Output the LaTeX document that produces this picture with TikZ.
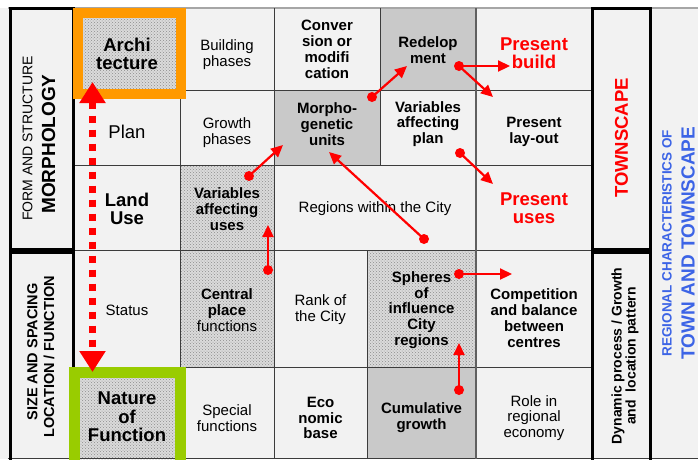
\documentclass[tikz,border=0pt]{standalone}
\usepackage{fontspec}
\setmainfont{Liberation Sans}
\usetikzlibrary{arrows.meta,patterns}
\definecolor{bg}{HTML}{F2F2F2}
\definecolor{cellgray}{HTML}{C9C9C9}
\definecolor{gridc}{HTML}{3C3C3C}
\definecolor{myred}{HTML}{FF0000}
\definecolor{myorange}{HTML}{FF9900}
\definecolor{mygreen}{HTML}{99CC00}
\definecolor{myblue}{HTML}{3C64E6}
\tikzset{
  txt/.style={align=center, inner sep=0pt, font=\fontsize{15}{15.8}\selectfont},
  btxt/.style={align=center, inner sep=0pt, font=\fontsize{15}{15.8}\selectfont\bfseries},
  bigtxt/.style={align=center, inner sep=0pt, font=\fontsize{18.5}{18.5}\selectfont},
  bigbtxt/.style={align=center, inner sep=0pt, font=\fontsize{18.5}{18.5}\selectfont\bfseries},
  redtxt/.style={bigbtxt, text=myred},
  vtxt/.style={rotate=90, inner sep=0pt},
  gridline/.style={draw=gridc, line width=1pt},
  thickbox/.style={draw=black, line width=3pt},
  stipple/.style={preaction={fill=gray!28}, pattern=crosshatch dots, pattern color=gray!90},
  link/.style={draw=myred, line width=2.2pt, -{Triangle[length=12pt,width=11pt]}},
  dotmark/.style={fill=myred},
}
\begin{document}
\begin{tikzpicture}[x=1pt,y=-1pt]
\useasboundingbox (0,0) rectangle (698,459);
\clip (0,0) rectangle (698,459);
% background
\fill[white] (0,0) rectangle (698,8);
\fill[bg] (0,8) rectangle (698,459);
% shaded cells
\fill[cellgray] (380,8) rectangle (476,90);
\fill[cellgray] (274,90) rectangle (380,165);
\fill[cellgray] (367,367) rectangle (476,459);
\path[stipple] (73,8) rectangle (180,90);
\path[stipple] (180,165) rectangle (274,250);
\path[stipple] (180,250) rectangle (274,367);
\path[stipple] (367,250) rectangle (476,367);
\path[stipple] (73,367) rectangle (180,459);
% grid
\draw[draw=gray!70, line width=1.2pt] (8,8) -- (698,8);
\draw[gridline] (73,90) -- (592,90);
\draw[gridline] (73,165) -- (592,165);
\draw[gridline] (73,250) -- (592,250);
\draw[gridline] (73,367) -- (592,367);
\draw[gridline] (8,458) -- (698,458);
\draw[gridline] (180,8) -- (180,459);
\draw[gridline] (274,8) -- (274,459);
\draw[gridline] (380,8) -- (380,165);
\draw[gridline] (367,250) -- (367,459);
\draw[draw=gray!75!black, line width=1.6pt] (476,8) -- (476,459);
% thick frames
\draw[thickbox] (10,8) rectangle (73,249.5);
\draw[thickbox] (10,252.5) rectangle (73,475);
\draw[thickbox] (592.5,8) rectangle (650.5,249.5);
\draw[thickbox] (592.5,252.5) rectangle (650.5,475);
% coloured frames
\draw[myorange, line width=10pt] (78,12.5) rectangle (181,94);
\draw[mygreen, line width=11pt] (74.5,372) rectangle (180.5,480);
% cell texts
\node[bigbtxt] (archi) at (127,54) {Archi\\tecture};
\node[txt] (build) at (227,55) {Building\\phases};
\node[btxt] (conv) at (327,49.5) {Conver\\sion or\\modifi\\cation};
\node[btxt] (redev) at (428,50) {Redelop\\ment};
\node[redtxt] (pbuild) at (534,53) {Present\\build};
\node[bigtxt] (plan) at (127,132) {Plan};
\node[txt] (growth) at (227,133) {Growth\\phases};
\node[btxt] (morph) at (327,124) {Morpho-\\genetic\\units};
\node[btxt] (varplan) at (428,124) {Variables\\affecting\\plan};
\node[btxt] (layout) at (534,132) {Present\\lay-out};
\node[bigbtxt] (land) at (127,209) {Land\\Use};
\node[btxt] (varuses) at (227,209) {Variables\\affecting\\uses};
\node[txt] (regions) at (375,209) {Regions within the City};
\node[redtxt] (puses) at (534,208) {Present\\uses};
\node[txt] (status) at (127,310) {Status};
\node[txt] (central) at (227,310) {{\bfseries Central}\\{\bfseries place}\\functions};
\node[txt] (rank) at (320.5,310) {Rank of\\the City};
\node[btxt] (spheres) at (421.5,310) {Spheres\\of\\influence\\City\\regions};
\node[btxt] (compet) at (534,318) {Competition\\and balance\\between\\centres};
\node[bigbtxt] (nature) at (127,417) {Nature\\of\\Function};
\node[txt] (special) at (227,418) {Special\\functions};
\node[btxt] (econ) at (320.5,418) {Eco\\nomic\\base};
\node[btxt] (cumul) at (421.5,418) {Cumulative\\growth};
\node[txt] (role) at (534,418) {Role in\\regional\\economy};
% side labels
\node[vtxt, font=\fontsize{14}{14}\selectfont] (form) at (27.5,138.5) {FORM AND STRUCTURE};
\node[vtxt, font=\fontsize{19}{19}\selectfont\bfseries] (morphology) at (48.5,144) {MORPHOLOGY};
\node[vtxt, font=\fontsize{14.5}{14.5}\selectfont\bfseries] (sizesp) at (32.5,352) {SIZE AND SPACING};
\node[vtxt, font=\fontsize{14.5}{14.5}\selectfont\bfseries] (locfun) at (49,357) {LOCATION / FUNCTION};
\node[vtxt, font=\fontsize{18.5}{18.5}\selectfont\bfseries, text=myred] (townscape) at (621.5,138) {TOWNSCAPE};
\node[vtxt, align=center, font=\fontsize{14}{12.5}\selectfont\bfseries] (dyn) at (625,356) {Dynamic process / Growth\\and\ \ location pattern};
\node[vtxt, font=\fontsize{13.5}{13.5}\selectfont\bfseries, text=myblue] (regchar) at (667,243) {REGIONAL CHARACTERISTICS OF};
\node[vtxt, font=\fontsize{19}{19}\selectfont\bfseries, text=myblue] (townt) at (688,243) {TOWN AND TOWNSCAPE};
% dotted double arrow
\coordinate (dtop) at (92.5,82);
\coordinate (dbot) at (92.5,372);
\draw[myred, line width=7pt, dash pattern=on 7pt off 7pt,
  {Triangle[length=21pt,width=25pt]}-{Triangle[length=21pt,width=25pt]}] (dtop) -- (dbot);
% red links
\coordinate (s1) at (372,97);  \coordinate (t1) at (407,66);
\coordinate (s2) at (459,66);  \coordinate (t2) at (510,66);
\coordinate (t3) at (493,97);
\coordinate (s4) at (460,153); \coordinate (t4) at (493,184);
\coordinate (s5) at (424,239); \coordinate (t5) at (329,152);
\coordinate (s6) at (249,176); \coordinate (t6) at (283,145);
\coordinate (s7) at (268,270); \coordinate (t7) at (268,225);
\coordinate (s8) at (459,274); \coordinate (t8) at (512,274);
\coordinate (s9) at (459,390); \coordinate (t9) at (459,343);
\draw[link] (s1) -- (t1);
\draw[link] (s2) -- (t2);
\draw[link] (s2) -- (t3);
\draw[link] (s4) -- (t4);
\draw[link] (s5) -- (t5);
\draw[link] (s6) -- (t6);
\draw[link] (s7) -- (t7);
\draw[link] (s8) -- (t8);
\draw[link] (s9) -- (t9);
\foreach \p in {s1,s2,s4,s5,s6,s7,s8,s9} \fill[dotmark] (\p) circle (5pt);
\end{tikzpicture}
\end{document}
